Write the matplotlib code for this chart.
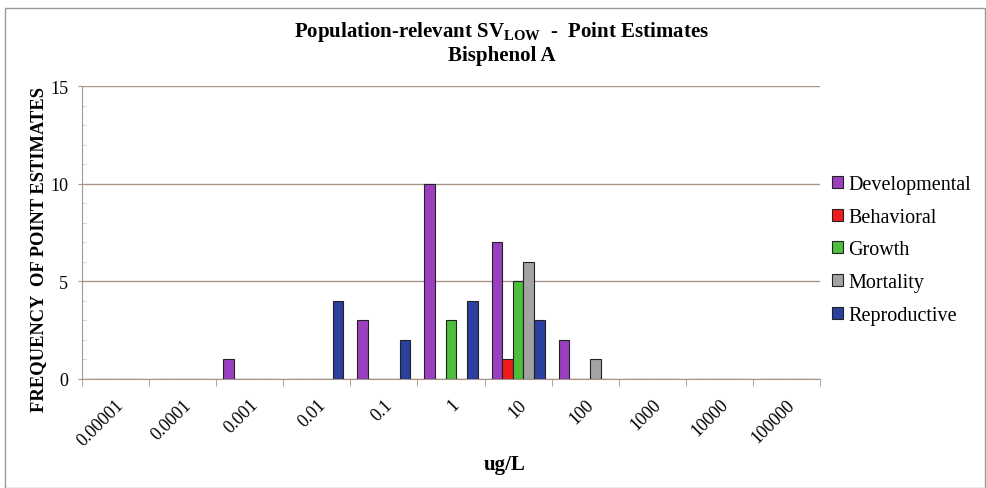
import numpy as np
import matplotlib
matplotlib.use("Agg")
import matplotlib.pyplot as plt
from matplotlib.patches import Rectangle

# ---------- data ----------
categories = ["0.00001", "0.0001", "0.001", "0.01", "0.1", "1",
              "10", "100", "1000", "10000", "100000"]
developmental = [0, 0, 1, 0, 3, 10, 7, 2, 0, 0, 0]
behavioral = [0, 0, 0, 0, 0, 0, 1, 0, 0, 0, 0]
growth = [0, 0, 0, 0, 0, 3, 5, 0, 0, 0, 0]
mortality = [0, 0, 0, 0, 0, 0, 6, 1, 0, 0, 0]
reproductive = [0, 0, 0, 4, 2, 4, 3, 0, 0, 0, 0]

series = [
    ("Developmental", developmental, "#9a3fbf"),
    ("Behavioral", behavioral, "#ee1c1c"),
    ("Growth", growth, "#4cbf3c"),
    ("Mortality", mortality, "#a3a3a3"),
    ("Reproductive", reproductive, "#2b3f9e"),
]

plt.rcParams["font.family"] = ["Liberation Serif", "DejaVu Serif"]
plt.rcParams["mathtext.fontset"] = "custom"
plt.rcParams["mathtext.rm"] = "Liberation Serif"
plt.rcParams["mathtext.bf"] = "Liberation Serif:bold"

fig = plt.figure(figsize=(9.87, 4.89), dpi=100)
ax = fig.add_axes([82 / 987, 1 - 380 / 489, 738 / 987, 293 / 489])

x = np.arange(len(categories))
w = 0.158
for j, (name, vals, col) in enumerate(series):
    ax.bar(x + (j - 2) * w, vals, width=w, color=col, edgecolor="#222222",
           linewidth=0.8, label=name, zorder=3)

grid_col = "#a89488"
ax.set_xlim(-0.5, len(categories) - 0.5)
ax.set_ylim(0, 15)
ax.set_yticks([0, 5, 10, 15])
ax.set_yticks(np.arange(0, 16, 1), minor=True)
ax.yaxis.grid(True, which="major", color=grid_col, linewidth=1.0, zorder=0)
ax.tick_params(axis="y", which="major", labelsize=13, length=3, pad=7,
               color=grid_col)
ax.tick_params(axis="y", which="minor", length=3, direction="in", color="#cccccc")

ax.set_xticks(x)
ax.set_xticklabels(categories, rotation=45, ha="right", va="top",
                   rotation_mode="anchor", fontsize=13)
ax.set_xticks(np.arange(-0.5, len(categories), 1), minor=True)
ax.tick_params(axis="x", which="major", length=0, pad=12)
ax.tick_params(axis="x", which="minor", length=5, color=grid_col)

for s in ["top", "right"]:
    ax.spines[s].set_visible(False)
ax.spines["left"].set_color(grid_col)
ax.spines["bottom"].set_color(grid_col)

ax.set_ylabel("FREQUENCY  OF POINT ESTIMATES", fontsize=13.3, fontweight="bold")
ax.yaxis.set_label_coords(-0.047, 0.447)
ax.set_xlabel("ug/L", fontsize=15, fontweight="bold")
ax.xaxis.set_label_coords(0.573, -0.256)

fig.text(0.508, 0.935, r"Population-relevant SV$_{\mathbf{LOW}}$  -  Point Estimates",
         ha="center", va="center", fontsize=15, fontweight="bold")
fig.text(0.508, 0.885, "Bisphenol A", ha="center", va="center",
         fontsize=15, fontweight="bold")

leg = ax.legend(loc="upper left", bbox_to_anchor=(822 / 987, 1 - 166 / 489),
                bbox_transform=fig.transFigure, frameon=False, fontsize=14.5,
                handlelength=0.55, handleheight=0.55, handletextpad=0.25,
                labelspacing=0.68, borderpad=0)

fig.patches.append(Rectangle((5 / 987, 0.0), 980 / 987, 1 - 9 / 489,
                             transform=fig.transFigure, fill=False,
                             edgecolor="#999999", linewidth=1.0))

fig.savefig("out.png", dpi=100)
